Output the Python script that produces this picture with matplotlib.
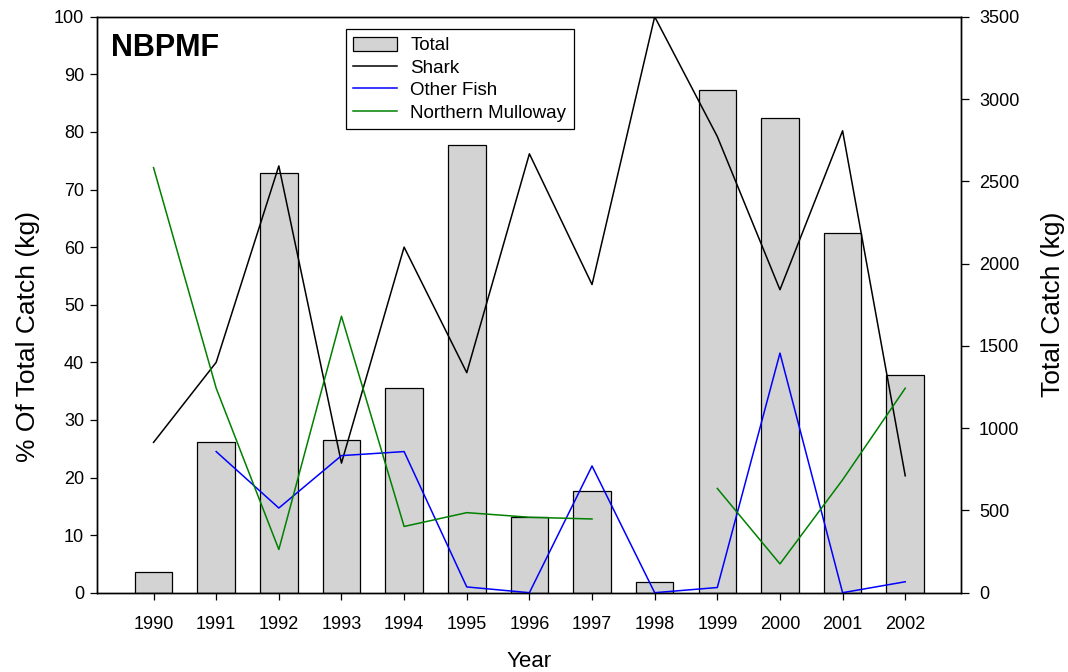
import numpy as np
import matplotlib
matplotlib.use("Agg")
import matplotlib.pyplot as plt
from matplotlib.patches import Patch
from matplotlib.lines import Line2D

plt.rcParams['font.family'] = ['Liberation Sans', 'DejaVu Sans']

years = [1990, 1991, 1992, 1993, 1994, 1995, 1996, 1997, 1998, 1999, 2000, 2001, 2002]
total_kg = [128, 918, 2549, 930, 1246, 2720, 458, 618, 63, 3055, 2883, 2184, 1325]
shark_pct = [26.1, 40.0, 74.1, 22.5, 60.0, 38.2, 76.2, 53.5, 100.0, 79.2, 52.6, 80.2, 20.3]
other_pct = [np.nan, 24.5, 14.7, 23.8, 24.5, 1.0, 0.0, 22.0, 0.0, 0.9, 41.6, 0.0, 1.9]
mulloway_pct = [73.8, 35.5, 7.5, 48.0, 11.5, 13.9, 13.1, 12.8, np.nan, 18.1, 5.0, 19.6, 35.5]

fig = plt.figure(figsize=(10.68, 6.72), dpi=100)
ax = fig.add_axes([0.0904, 0.118, 0.8094, 0.8571])
ax2 = ax.twinx()

# bars on the right axis, lines on the left axis drawn over them
ax2.bar(years, total_kg, width=0.6, color='#d3d3d3', edgecolor='black', linewidth=0.9)
ax2.set_ylim(0, 3500)
ax2.set_yticks(range(0, 3501, 500))

ax.set_zorder(ax2.get_zorder() + 1)
ax.patch.set_visible(False)
ax.plot(years, shark_pct, color='black', lw=1.1)
ax.plot(years, other_pct, color='#0000ff', lw=1.1)
ax.plot(years, mulloway_pct, color='#008000', lw=1.1)

ax.set_xlim(1989.09, 2002.89)
ax.set_ylim(0, 100)
ax.set_xticks(years)
ax.set_yticks(range(0, 101, 10))

ax.tick_params(axis='x', direction='out', length=5, width=0.9, pad=12, labelsize=13)
ax.tick_params(axis='y', direction='out', length=5, width=0.9, pad=4, labelsize=13)
ax2.tick_params(axis='y', direction='out', length=6, width=0.9, pad=7, labelsize=13)

for a in (ax, ax2):
    for s in a.spines.values():
        s.set_linewidth(1.0)
        s.set_color('black')

ax.set_xlabel('Year', fontsize=16)
ax.xaxis.set_label_coords(0.5, -0.101)
ax.set_ylabel('% Of Total Catch (kg)', fontsize=19)
ax.yaxis.set_label_coords(-0.0654, 0.445)
ax2.set_ylabel('Total Catch (kg)', fontsize=19)
ax2.yaxis.set_label_coords(1.092, 0.5)

ax.text(0.0168, 0.972, 'NBPMF', transform=ax.transAxes, fontsize=22,
        fontweight='bold', ha='left', va='top')

handles = [Patch(facecolor='#d3d3d3', edgecolor='black', linewidth=0.9),
           Line2D([], [], color='black', lw=1.1),
           Line2D([], [], color='#0000ff', lw=1.1),
           Line2D([], [], color='#008000', lw=1.1)]
labels = ['Total', 'Shark', 'Other Fish', 'Northern Mulloway']
leg = ax.legend(handles, labels, loc='upper left',
                bbox_to_anchor=(345.7 / 1068, 1 - 29.3 / 672),
                bbox_transform=fig.transFigure, borderaxespad=0,
                fontsize=13.5, frameon=True, fancybox=False, framealpha=1,
                edgecolor='black', handlelength=2.35, handleheight=0.75,
                handletextpad=0.7, labelspacing=0.27, borderpad=0.4)
leg.get_frame().set_linewidth(0.9)

fig.savefig('out.png', dpi=100)
